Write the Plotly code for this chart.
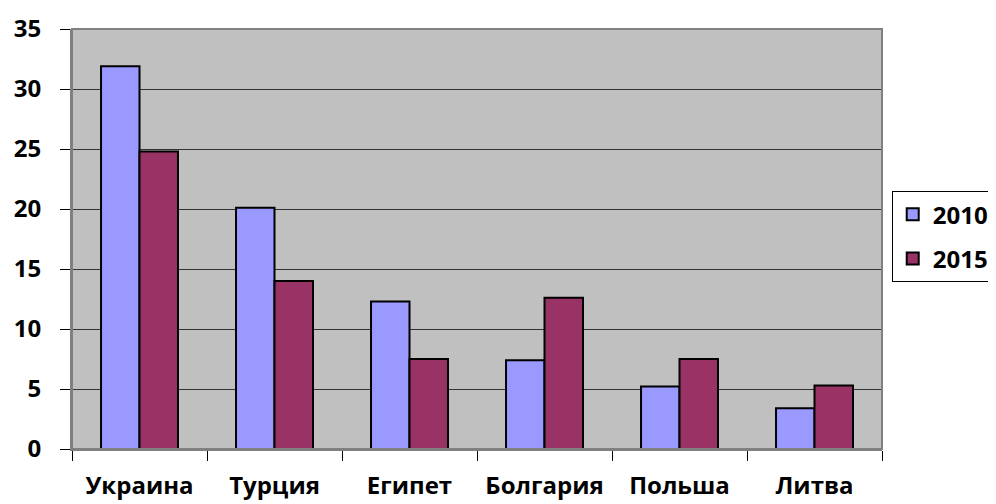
import plotly.graph_objects as go

categories = ["Украина", "Турция", "Египет", "Болгария", "Польша", "Литва"]
values_2010 = [31.9, 20.1, 12.3, 7.4, 5.2, 3.4]
values_2015 = [24.8, 14.0, 7.5, 12.6, 7.5, 5.3]
y_ticks = [0, 5, 10, 15, 20, 25, 30, 35]

FONT = "Open Sans"
FS = 24

fig = go.Figure()
fig.add_trace(go.Bar(name="2010", x=categories, y=values_2010, legendgroup="a",
                     marker=dict(color="#9999FF", line=dict(color="black", width=2))))
fig.add_trace(go.Bar(name="2015", x=categories, y=values_2015, legendgroup="b",
                     marker=dict(color="#993366", line=dict(color="black", width=2))))

# page body has an 8px margin, so the figure is 8px smaller and left/top margins are offset
fig.update_layout(
    width=988, height=496,
    margin=dict(l=64, r=114, t=21, b=55, autoexpand=False),
    paper_bgcolor="white",
    plot_bgcolor="#C0C0C0",
    barmode="group",
    bargap=0.43,
    bargroupgap=0,
    font=dict(family=FONT, size=FS, color="black"),
    showlegend=True,
    legend=dict(x=1.012, y=0.614, xanchor="left", yanchor="top",
                bgcolor="white", bordercolor="black", borderwidth=1,
                font=dict(family=FONT, size=FS, color="black", weight="bold"),
                traceorder="grouped", tracegroupgap=10),
)
fig.update_xaxes(
    showgrid=False, tickson="boundaries", ticks="outside", ticklen=10,
    tickcolor="black", tickwidth=1, showline=True, linecolor="#808080", linewidth=2,
    ticklabelstandoff=14,
    tickfont=dict(family=FONT, size=FS, color="black", weight="bold"),
)
fig.update_yaxes(
    range=[0, 35], tickvals=y_ticks, showgrid=True, gridcolor="#333333", gridwidth=1,
    ticks="outside", ticklen=10, tickcolor="black", showline=True, linecolor="#808080",
    linewidth=2, zeroline=False, ticklabelstandoff=14,
    tickfont=dict(family=FONT, size=FS, color="black", weight="bold"),
)
fig.add_shape(type="rect", xref="paper", yref="paper", x0=0, x1=1, y0=0, y1=1,
              line=dict(color="#808080", width=2), layer="above")

fig.write_html("out.html")
